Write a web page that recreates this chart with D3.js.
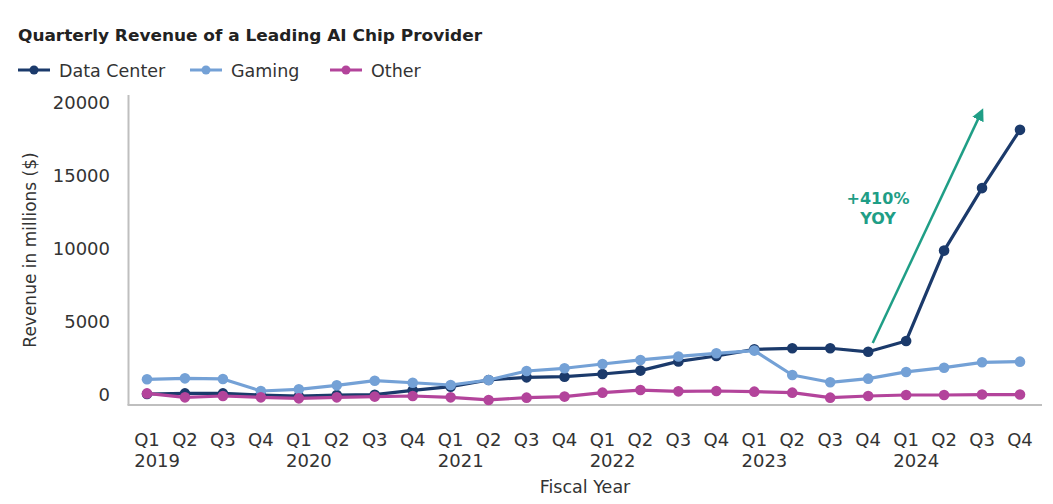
<!DOCTYPE html>
<html><head><meta charset="utf-8">
<script src="https://cdn.jsdelivr.net/npm/d3@7"></script>
<style>
body{margin:0;background:#fff;}
text{font-family:"DejaVu Sans","Noto Sans",sans-serif;}
</style></head>
<body><svg id="c" width="1053" height="504"></svg>
<script>
const quarters = ["Q1","Q2","Q3","Q4","Q1","Q2","Q3","Q4","Q1","Q2","Q3","Q4","Q1","Q2","Q3","Q4","Q1","Q2","Q3","Q4","Q1","Q2","Q3","Q4"];
const years = ["2019","2020","2021","2022","2023","2024"];
const dataCenter = [70,110,110,0,-80,0,20,320,570,1030,1210,1255,1440,1670,2300,2670,3130,3200,3200,2960,3700,9890,14170,18160];
const gaming = [1075,1140,1100,275,390,660,980,840,685,1030,1645,1830,2125,2400,2640,2855,3040,1370,870,1120,1580,1870,2240,2285];
const other = [110,-160,-70,-160,-230,-160,-110,-70,-160,-340,-180,-110,160,340,250,275,230,160,-180,-70,0,0,30,30];
const yTicks = [0,5000,10000,15000,20000];
const seriesNames = ["Data Center","Gaming","Other"];
const seriesColors = ["#1b3a6b","#74a1d6","#b3449b"];
const annotation = {label1:"+410%", label2:"YOY", from:[19.12,3560], to:[22.05,19750]};

const svg = d3.select("#c");
const x = d3.scaleLinear().domain([0,23]).range([147,1020]);
const y = d3.scaleLinear().domain([0,20000]).range([395,103]);
const axisColor = "#bfbfbf", textColor = "#333";

// title
svg.append("text").attr("x",18).attr("y",41).attr("font-size",16.5).attr("font-weight","bold")
  .attr("fill","#222").attr("textLength",464).attr("lengthAdjust","spacingAndGlyphs")
  .text("Quarterly Revenue of a Leading AI Chip Provider");

// legend
const legX = [18,190,330];
seriesNames.forEach((n,i)=>{
  const g = svg.append("g").attr("transform",`translate(${legX[i]},70)`);
  g.append("line").attr("x1",0).attr("x2",32).attr("y1",0).attr("y2",0).attr("stroke",seriesColors[i]).attr("stroke-width",3);
  g.append("circle").attr("cx",16).attr("cy",0).attr("r",4.5).attr("fill",seriesColors[i]);
  g.append("text").attr("x",41).attr("y",6.5).attr("font-size",17.5).attr("fill",textColor).text(n);
});

// axes lines
const yBottom = y(-690);
svg.append("line").attr("x1",128.5).attr("x2",128.5).attr("y1",95).attr("y2",yBottom).attr("stroke",axisColor).attr("stroke-width",2);
svg.append("line").attr("x1",127.5).attr("x2",1042).attr("y1",yBottom).attr("y2",yBottom).attr("stroke",axisColor).attr("stroke-width",2);

// y ticks
const yAxis = d3.axisLeft(y).tickValues(yTicks).tickSize(0).tickPadding(0).tickFormat(d3.format("d"));
const ya = svg.append("g").attr("transform","translate(110,0)").call(yAxis);
ya.select(".domain").remove();
ya.selectAll("text").attr("font-size",18).attr("fill",textColor).attr("font-family","'DejaVu Sans',sans-serif");

svg.append("text").attr("transform","translate(36,250) rotate(-90)").attr("text-anchor","middle")
  .attr("font-size",17).attr("fill",textColor).text("Revenue in millions ($)");

// x labels
quarters.forEach((q,i)=>{
  const t = svg.append("text").attr("x",x(i)).attr("y",446).attr("text-anchor","middle").attr("font-size",18).attr("fill",textColor).text(q);
  if(i%4===0){
    const w = t.node().getComputedTextLength();
    svg.append("text").attr("x",x(i)-w/2).attr("y",467).attr("font-size",18).attr("fill",textColor).text(years[i/4]);
  }
});
svg.append("text").attr("x",585).attr("y",493).attr("text-anchor","middle").attr("font-size",17.5).attr("fill",textColor).text("Fiscal Year");

// series: drawn in order, later series on top
const line = d3.line().x((d,i)=>x(i)).y(d=>y(d));
const allSeries = [dataCenter,gaming,other];
[0,1,2].forEach(si=>{
  const g = svg.append("g");
  g.append("path").attr("d",line(allSeries[si])).attr("fill","none").attr("stroke",seriesColors[si]).attr("stroke-width",3.2).attr("stroke-linejoin","round");
  g.selectAll("circle").data(allSeries[si]).join("circle").attr("cx",(d,i)=>x(i)).attr("cy",d=>y(d)).attr("r",5.3).attr("fill",seriesColors[si]);
});

// annotation arrow
const teal = "#1f9e86";
const defs = svg.append("defs");
defs.append("marker").attr("id","ah").attr("viewBox","0 0 10 10").attr("refX",5).attr("refY",5)
  .attr("markerWidth",5).attr("markerHeight",5).attr("orient","auto")
  .append("path").attr("d","M0,0 L10,5 L0,10 z").attr("fill",teal);
const [fx,fy] = [x(annotation.from[0]),y(annotation.from[1])];
const [tx,ty] = [x(annotation.to[0]),y(annotation.to[1])];
const ang = Math.atan2(ty-fy,tx-fx);
svg.append("line").attr("x1",fx).attr("y1",fy).attr("x2",tx-Math.cos(ang)*8).attr("y2",ty-Math.sin(ang)*8)
  .attr("stroke",teal).attr("stroke-width",2.5).attr("marker-end","url(#ah)");
svg.append("text").attr("x",878).attr("y",204).attr("text-anchor","middle").attr("font-size",16).attr("font-weight","bold").attr("fill",teal).text(annotation.label1);
svg.append("text").attr("x",878).attr("y",224).attr("text-anchor","middle").attr("font-size",16).attr("font-weight","bold").attr("fill",teal).text(annotation.label2);
</script></body></html>
